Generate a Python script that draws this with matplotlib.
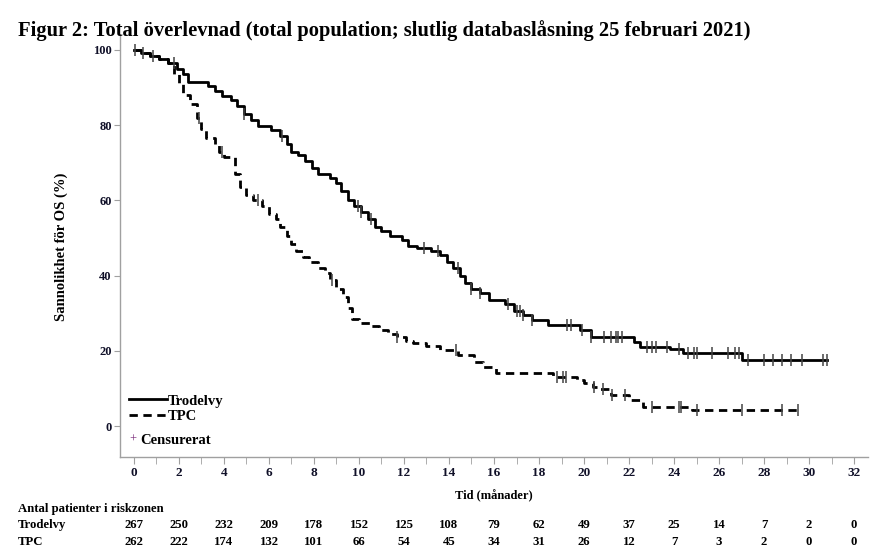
import numpy as np
import matplotlib.pyplot as plt
from matplotlib.lines import Line2D
from matplotlib.transforms import blended_transform_factory

plt.rcParams.update({
    'font.family': 'serif',
    'font.serif': ['Liberation Serif', 'DejaVu Serif'],
    'font.weight': 'bold',
})

# Kaplan-Meier steps (month, survival %)
trod_t = [0, 0.3, 0.7, 1.1, 1.5, 1.9, 2.2, 2.4, 3.3, 3.6, 3.9, 4.3, 4.6, 4.9,
          5.2, 5.5, 6.1, 6.5, 6.8, 7.0, 7.3, 7.6, 7.9, 8.2, 8.7, 9.0, 9.2,
          9.5, 9.8, 10.1, 10.4, 10.7, 11.0, 11.4, 11.9, 12.2, 12.6, 13.2,
          13.6, 13.9, 14.2, 14.5, 14.7, 15.0, 15.4, 15.8, 16.5, 16.9, 17.3,
          17.7, 18.4, 19.8, 20.3, 22.2, 22.5, 23.8, 24.4, 27.0]
trod_s = [100, 99.3, 98.5, 97.6, 96.5, 95, 93.5, 91.5, 90.5, 89, 87.8, 86.7,
          85, 83, 81.5, 79.8, 78.8, 77, 75, 73, 72, 70.5, 68.5, 67, 66, 64.5,
          62.5, 60, 58.5, 57, 55, 53, 52, 50.5, 49.5, 48, 47.3, 46.5, 45.5,
          43.5, 42, 40, 38, 36.5, 35.5, 33.5, 32.5, 30.5, 29.5, 28.2, 26.9,
          25.5, 23.8, 22.4, 21.0, 20.4, 19.4, 17.6]
trod_end = 30.8

tpc_t = [0, 0.3, 0.7, 1.1, 1.5, 1.8, 2.0, 2.2, 2.5, 2.8, 3.0, 3.2, 3.6, 3.8,
         4.0, 4.5, 4.7, 5.0, 5.3, 5.7, 6.0, 6.3, 6.5, 6.8, 7.0, 7.2, 7.5,
         7.8, 8.2, 8.5, 8.7, 9.0, 9.3, 9.5, 9.7, 10.0, 10.5, 10.9, 11.3,
         11.7, 12.1, 12.4, 13.0, 13.6, 14.4, 15.1, 15.5, 16.1, 18.6, 19.7,
         20.0, 20.4, 20.6, 21.2, 22.0, 22.6, 24.8]
tpc_s = [100, 99.3, 98.5, 97.6, 96.5, 93.5, 91, 88, 85.5, 82, 79, 76.5,
         74.7, 73, 71.5, 67, 63.6, 61.5, 60, 58.5, 56.5, 55, 53, 50.5, 48.5,
         46.5, 45, 43.5, 42, 40.7, 38.8, 36.5, 34.3, 31.5, 28.5, 27.4, 26.5,
         25.5, 24.5, 23.7, 22.6, 22, 21.2, 20.2, 18.9, 17, 15.7, 14.1, 13.0,
         12.2, 11.5, 10.4, 9.8, 8.2, 6.9, 5.1, 4.3]
tpc_end = 29.5

trod_cens = [0.05, 0.4, 0.85, 1.8, 4.9, 6.6, 9.95, 10.1, 10.55, 12.9, 13.5,
             14.4, 15.0, 15.4, 16.6, 17.0, 17.15, 17.3, 17.7, 19.25, 19.4,
             19.9, 20.3, 20.9, 21.2, 21.4, 21.5, 21.7, 22.8, 23.0, 23.2,
             23.7, 24.2, 24.6, 24.9, 25.0, 25.7, 26.4, 26.7, 26.9, 27.3,
             28.0, 28.4, 28.8, 29.2, 29.7, 30.6, 30.8]
tpc_cens = [2.9, 3.9, 5.5, 8.8, 11.7, 14.3, 18.8, 19.05, 19.2, 20.45,
            20.85, 21.25, 21.8, 23.0, 24.2, 24.3, 25.0, 27.0, 28.8, 29.5]

months = list(range(0, 34, 2))
risk_trod = [267, 250, 232, 209, 178, 152, 125, 108, 79, 62, 49, 37, 25, 14, 7, 2, 0]
risk_tpc = [262, 222, 174, 132, 101, 66, 54, 45, 34, 31, 26, 12, 7, 3, 2, 0, 0]


def step_at(times, surv, x):
    idx = np.searchsorted(times, x, side='right') - 1
    return np.asarray(surv)[idx]


fig = plt.figure(figsize=(8.78, 5.60), dpi=100)
ax = fig.add_axes([120 / 878, 1 - 457 / 560, 748 / 878, 421 / 560])

ax.step(trod_t + [trod_end], trod_s + [trod_s[-1]], where='post',
        color='black', lw=2.0)
ax.step(tpc_t + [tpc_end], tpc_s + [tpc_s[-1]], where='post',
        color='black', lw=2.0, linestyle=(0, (3, 2)))

ax.plot(trod_cens, step_at(trod_t, trod_s, trod_cens), linestyle='none',
        marker='|', ms=9, mew=1.1, color='#444444')
ax.plot(tpc_cens, step_at(tpc_t, tpc_s, tpc_cens), linestyle='none',
        marker='|', ms=9, mew=1.1, color='#444444')

ax.set_xlim(-0.62, 32.62)
ax.set_ylim(-8.2, 103.7)

for s in ['top', 'right']:
    ax.spines[s].set_visible(False)
for s in ['left', 'bottom']:
    ax.spines[s].set_color('#a0a0a0')
    ax.spines[s].set_linewidth(1.0)

ax.set_xticks(months)
ax.set_xticks(range(1, 33, 2), minor=True)
ax.set_yticks([0, 20, 40, 60, 80, 100])
ax.tick_params(axis='x', which='both', direction='out', length=5,
               color='#a0a0a0', labelsize=9.5, pad=2, labelcolor='#101028')
ax.tick_params(axis='y', direction='out', length=4, color='#a0a0a0',
               labelsize=9, pad=2, labelcolor='#101028')

ax.set_xlabel('Tid (månader)', fontsize=9, fontweight='bold', labelpad=8)
ax.set_ylabel('Sannolikhet för OS (%)', fontsize=10.5, fontweight='bold',
              labelpad=18)

handles = [Line2D([], [], color='black', lw=2.0),
           Line2D([], [], color='black', lw=2.0, linestyle=(0, (3, 2)))]
leg = ax.legend(handles, ['Trodelvy', 'TPC'], loc='lower left',
                bbox_to_anchor=(0.0, 0.06), frameon=False, fontsize=10.5,
                handlelength=2.6, handletextpad=0.1, labelspacing=0.15,
                borderaxespad=0.2)
ax.text(0.012, 0.04, '+', transform=ax.transAxes, color='#7a2a7a',
        fontsize=9, va='center', ha='left', fontweight='normal')
ax.text(0.027, 0.04, 'Censurerat', transform=ax.transAxes, fontsize=10.5,
        va='center', ha='left', fontweight='bold')

fig.text(18 / 878, 1 - 31 / 560,
         'Figur 2: Total överlevnad (total population; slutlig databaslåsning 25 februari 2021)',
         fontsize=14.8, fontweight='bold', va='center', ha='left')

trans = blended_transform_factory(ax.transData, fig.transFigure)
fig.text(18 / 878, 1 - 509 / 560, 'Antal patienter i riskzonen',
         fontsize=9.2, fontweight='bold', va='center', ha='left')
fig.text(18 / 878, 1 - 525 / 560, 'Trodelvy', fontsize=9.2,
         fontweight='bold', va='center', ha='left')
fig.text(18 / 878, 1 - 542 / 560, 'TPC', fontsize=9.2,
         fontweight='bold', va='center', ha='left')
for m, a, b in zip(months, risk_trod, risk_tpc):
    ax.text(m, 1 - 525 / 560, str(a), transform=trans, fontsize=9.2,
            fontweight='bold', ha='center', va='center', clip_on=False)
    ax.text(m, 1 - 542 / 560, str(b), transform=trans, fontsize=9.2,
            fontweight='bold', ha='center', va='center', clip_on=False)

fig.savefig('out.png', dpi=100)
